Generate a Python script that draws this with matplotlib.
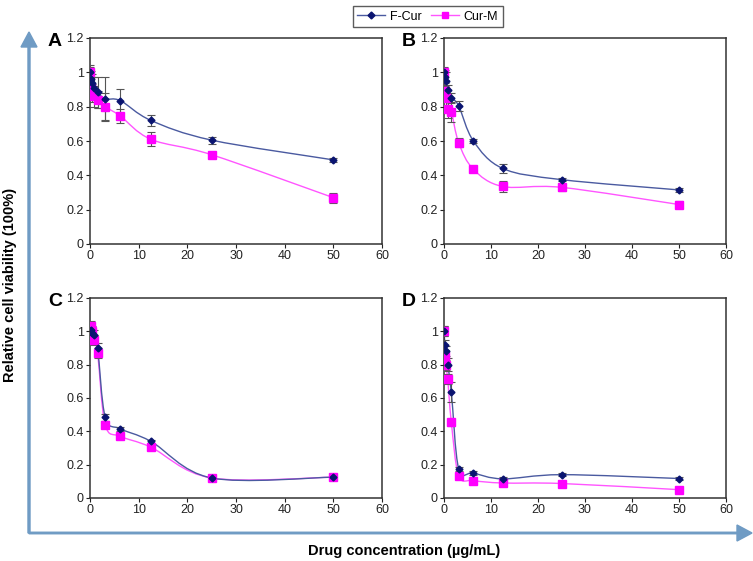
import numpy as np
import matplotlib.pyplot as plt
from matplotlib.path import Path
from matplotlib.patches import PathPatch, FancyArrow
from matplotlib.lines import Line2D

plt.rcParams['font.family'] = ['Liberation Sans', 'DejaVu Sans']

# concentrations (ug/mL), two-fold dilutions plus control
conc = [0, 0.195, 0.39, 0.78, 1.56, 3.125, 6.25, 12.5, 25, 50]

fcur_a = [1.0, 0.96, 0.94, 0.91, 0.885, 0.845, 0.835, 0.72, 0.605, 0.49]
fcur_a_err = [0.04, 0.05, 0.05, 0.06, 0.09, 0.13, 0.07, 0.03, 0.02, 0.01]
curm_a = [1.0, 0.91, 0.88, 0.86, 0.84, 0.80, 0.745, 0.61, 0.52, 0.27]
curm_a_err = [0.03, 0.06, 0.05, 0.06, 0.05, 0.08, 0.04, 0.04, 0.015, 0.03]

fcur_b = [1.0, 0.975, 0.95, 0.895, 0.85, 0.805, 0.60, 0.44, 0.375, 0.315]
fcur_b_err = [0.02, 0.04, 0.05, 0.03, 0.03, 0.03, 0.01, 0.025, 0.01, 0.01]
curm_b = [1.0, 0.89, 0.85, 0.785, 0.77, 0.59, 0.435, 0.335, 0.33, 0.23]
curm_b_err = [0.03, 0.03, 0.04, 0.05, 0.06, 0.025, 0.015, 0.03, 0.02, 0.02]

fcur_c = [1.0, 1.01, 0.99, 0.98, 0.90, 0.485, 0.415, 0.34, 0.12, 0.125]
fcur_c_err = [0.04, 0.04, 0.03, 0.03, 0.03, 0.02, 0.01, 0.01, 0.01, 0.01]
curm_c = [1.0, 1.03, 1.0, 0.95, 0.87, 0.44, 0.37, 0.305, 0.12, 0.125]
curm_c_err = [0.04, 0.03, 0.03, 0.03, 0.03, 0.02, 0.015, 0.01, 0.01, 0.01]

fcur_d = [1.0, 0.92, 0.885, 0.80, 0.635, 0.175, 0.15, 0.115, 0.14, 0.117]
fcur_d_err = [0.03, 0.03, 0.03, 0.04, 0.06, 0.01, 0.01, 0.01, 0.01, 0.01]
curm_d = [1.0, 0.85, 0.80, 0.715, 0.455, 0.135, 0.105, 0.09, 0.087, 0.05]
curm_d_err = [0.03, 0.03, 0.03, 0.03, 0.02, 0.01, 0.01, 0.01, 0.01, 0.01]

panels = [
    ("A", fcur_a, fcur_a_err, curm_a, curm_a_err),
    ("B", fcur_b, fcur_b_err, curm_b, curm_b_err),
    ("C", fcur_c, fcur_c_err, curm_c, curm_c_err),
    ("D", fcur_d, fcur_d_err, curm_d, curm_d_err),
]

NAVY = '#0a1470'
LINE_BLUE = '#4a5aa0'
MAGENTA = '#ff00ff'
LINE_PINK = '#ff55ff'
ARROW = '#6f9bc4'


def smooth_path(x, y):
    # Excel-style smoothed line: Catmull-Rom converted to cubic Bezier
    pts = np.column_stack([x, y]).astype(float)
    n = len(pts)
    verts = [pts[0]]
    codes = [Path.MOVETO]
    for i in range(n - 1):
        p0 = pts[i - 1] if i > 0 else pts[i]
        p1 = pts[i]
        p2 = pts[i + 1]
        p3 = pts[i + 2] if i + 2 < n else pts[i + 1]
        verts += [p1 + (p2 - p0) / 6.0, p2 - (p3 - p1) / 6.0, p2]
        codes += [Path.CURVE4] * 3
    return Path(verts, codes)


W, H = 753.0, 561.0
fig = plt.figure(figsize=(W / 100, H / 100), dpi=100)

# axes boxes in pixels: left, top, right, bottom
boxes = [
    (90, 38, 382, 244),
    (444, 38, 726, 244),
    (90, 298, 382, 498),
    (444, 298, 726, 498),
]

for (label, fc, fce, cm, cme), (x0, y0, x1, y1) in zip(panels, boxes):
    ax = fig.add_axes([x0 / W, 1 - y1 / H, (x1 - x0) / W, (y1 - y0) / H])
    for y, err, lc, mc, mk, ms in [(cm, cme, LINE_PINK, MAGENTA, 's', 6),
                                   (fc, fce, LINE_BLUE, NAVY, 'D', 3.5)]:
        ax.add_patch(PathPatch(smooth_path(conc, y), facecolor='none',
                               edgecolor=lc, lw=1.0, zorder=2))
        ax.errorbar(conc, y, yerr=err, fmt='none', ecolor='#555555',
                    elinewidth=0.8, capsize=3, capthick=0.8, zorder=3)
        ax.plot(conc, y, linestyle='none', marker=mk, color=mc,
                markersize=ms, zorder=4)
    ax.set_xlim(0, 60)
    ax.set_ylim(0, 1.2)
    ax.set_xticks([0, 10, 20, 30, 40, 50, 60])
    ax.set_yticks([0, 0.2, 0.4, 0.6, 0.8, 1.0, 1.2])
    ax.set_yticklabels(['0', '0.2', '0.4', '0.6', '0.8', '1', '1.2'])
    ax.tick_params(direction='out', length=3, width=0.8, labelsize=9,
                   pad=1.5, colors='#222222')
    for s in ax.spines.values():
        s.set_linewidth(1.1)
        s.set_color('#333333')
    fig.text((x0 - 42) / W, 1 - (y0 + 4) / H, label, fontsize=14,
             fontweight='bold', ha='left', va='center')

handles = [
    Line2D([], [], color=LINE_BLUE, marker='D', markerfacecolor=NAVY,
           markeredgecolor=NAVY, markersize=3.5, lw=1),
    Line2D([], [], color=LINE_PINK, marker='s', markerfacecolor=MAGENTA,
           markeredgecolor=MAGENTA, markersize=5, lw=1),
]
fig.legend(handles, ['F-Cur', 'Cur-M'], loc='upper center',
           bbox_to_anchor=(0.568, 1.0), ncol=2, fontsize=9, frameon=True,
           fancybox=False, edgecolor='#333333', handlelength=2.2,
           columnspacing=0.8, handletextpad=0.4, borderpad=0.35)

# blue axis arrows
fig.patches.append(FancyArrow(
    29 / W, 1 - 533 / H, 0, (533 - 32) / H, width=1.5 / H,
    head_width=16 / W, head_length=15 / H, length_includes_head=True,
    color=ARROW, transform=fig.transFigure, figure=fig))
fig.patches.append(FancyArrow(
    29 / W, 1 - 533 / H, (752 - 29) / W, 0, width=1.5 / H,
    head_width=16 / H, head_length=15 / W, length_includes_head=True,
    color=ARROW, transform=fig.transFigure, figure=fig))

fig.text(10 / W, 1 - 285 / H, 'Relative cell viability (100%)', rotation=90,
         ha='center', va='center', fontsize=10.5, fontweight='bold')
fig.text(404 / W, 1 - 551 / H, 'Drug concentration (µg/mL)', ha='center',
         va='center', fontsize=10.5, fontweight='bold')

fig.savefig('out.png', dpi=100)
